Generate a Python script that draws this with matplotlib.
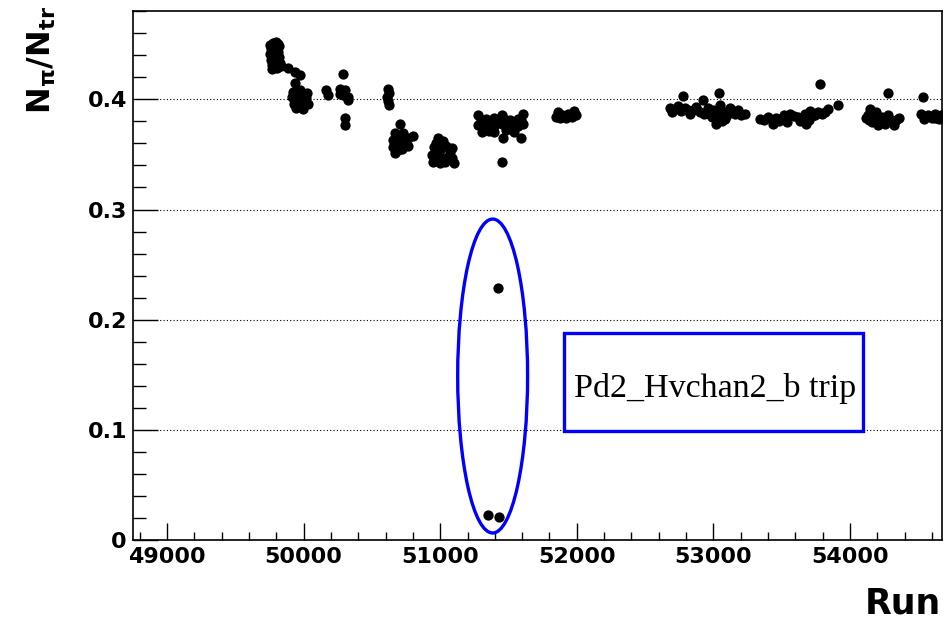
import matplotlib
matplotlib.use('Agg')
import matplotlib.pyplot as plt
from matplotlib.patches import Ellipse, Rectangle
from matplotlib.ticker import MultipleLocator

plt.rcParams['mathtext.fontset'] = 'dejavusans'

# pion / trigger ratio per run
runs = [
    49755, 49775, 49795, 49815, 49760, 49790, 49820, 49750, 49780, 49810,
    49760, 49790, 49820, 49765, 49795, 49825, 49770, 49805, 49835,
    49888, 49937, 49974, 49937,
    49922, 49974, 50025, 49915, 49966, 50017, 49930, 49981, 50032, 49944, 49996,
    50160, 50175,
    50266, 50303, 50288, 50325, 50266, 50325,
    50285, 50303, 50303,
    50618, 50625, 50611, 50618, 50625,
    50706, 50669, 50728, 50654, 50706, 50764, 50801, 50654, 50706, 50764, 50669, 50691,
    50680, 50740, 50720,
    50984, 50955, 50940, 50947, 50998, 51042, 51086, 51057, 51101, 51035, 51086,
    50970, 51010, 51020, 51070, 51000, 50960,
    51277, 51335, 51394, 51452, 51511, 51569, 51606, 51277, 51335, 51394,
    51452, 51511, 51569, 51606, 51306, 51394, 51460, 51591, 51540,
    51300, 51360, 51420, 51480, 51540, 51590, 51360, 51480,
    51452,
    51848, 51891, 51935, 51979, 51862, 51920, 51964, 51994, 51880, 51950,
    52682, 52741, 52777, 52814, 52873, 52924, 52960, 52990, 53019, 53041,
    53063, 53085, 53121, 53180, 53231, 52931, 52829, 52763, 53048, 53158,
    52700, 52790, 52850, 52900, 52970, 53000, 53030, 53100, 53140, 53200, 53060,
    53341, 53400, 53458, 53517, 53560, 53619, 53670, 53707, 53743, 53795,
    53839, 53539, 53436, 53678, 53634,
    53370, 53490, 53590, 53650, 53720, 53770, 53820, 53480, 53700,
    53780, 53912,
    54146, 54131, 54161, 54117, 54190, 54234, 54278, 54314, 54358, 54256, 54322, 54204,
    54140, 54170, 54220, 54290, 54340, 54180,
    54278, 54534,
    54519, 54571, 54622, 54666, 54541, 54600, 54651, 54560, 54620,
]
ratio = [
    0.449, 0.451, 0.452, 0.450, 0.446, 0.447, 0.448, 0.441, 0.442, 0.443,
    0.436, 0.437, 0.438, 0.431, 0.432, 0.433, 0.427, 0.428, 0.430,
    0.428, 0.425, 0.422, 0.415,
    0.407, 0.408, 0.406, 0.402, 0.402, 0.401, 0.396, 0.396, 0.396, 0.392, 0.391,
    0.408, 0.404,
    0.409, 0.408, 0.404, 0.402, 0.405, 0.399,
    0.423, 0.383, 0.377,
    0.409, 0.406, 0.402, 0.398, 0.395,
    0.378, 0.369, 0.369, 0.363, 0.363, 0.365, 0.367, 0.357, 0.357, 0.358, 0.351, 0.354,
    0.360, 0.362, 0.355,
    0.365, 0.357, 0.349, 0.343, 0.354, 0.358, 0.356, 0.348, 0.342, 0.343, 0.347,
    0.360, 0.347, 0.362, 0.352, 0.342, 0.350,
    0.386, 0.382, 0.383, 0.386, 0.381, 0.382, 0.387, 0.377, 0.375, 0.376,
    0.378, 0.375, 0.376, 0.378, 0.370, 0.370, 0.365, 0.365, 0.370,
    0.381, 0.379, 0.380, 0.381, 0.379, 0.381, 0.371, 0.372,
    0.343,
    0.384, 0.386, 0.387, 0.389, 0.388, 0.383, 0.384, 0.386, 0.383, 0.385,
    0.392, 0.394, 0.403, 0.390, 0.393, 0.399, 0.392, 0.384, 0.378, 0.406,
    0.389, 0.382, 0.392, 0.390, 0.387, 0.387, 0.387, 0.389, 0.395, 0.387,
    0.388, 0.392, 0.390, 0.388, 0.387, 0.390, 0.384, 0.386, 0.388, 0.386, 0.380,
    0.382, 0.384, 0.383, 0.386, 0.387, 0.384, 0.387, 0.389, 0.386, 0.387,
    0.391, 0.379, 0.378, 0.378, 0.380,
    0.381, 0.382, 0.385, 0.383, 0.385, 0.388, 0.388, 0.380, 0.381,
    0.414, 0.395,
    0.391, 0.386, 0.379, 0.383, 0.388, 0.384, 0.386, 0.380, 0.383, 0.378, 0.377, 0.377,
    0.381, 0.385, 0.381, 0.382, 0.381, 0.380,
    0.406, 0.402,
    0.387, 0.386, 0.387, 0.386, 0.382, 0.383, 0.382, 0.384, 0.383,
]

# runs taken during the HV trip
trip_runs = [51352, 51432, 51422]
trip_ratio = [0.023, 0.021, 0.229]

xticks = [49000, 50000, 51000, 52000, 53000, 54000]
yticks = [0, 0.1, 0.2, 0.3, 0.4]
ytick_labels = ['0', '0.1', '0.2', '0.3', '0.4']

fig = plt.figure(figsize=(9.43, 6.23), dpi=100)
ax = fig.add_axes([0.141, 0.1327, 0.858, 0.8496])

ax.plot(runs, ratio, 'o', color='black', ms=7.4, mew=0)
ax.plot(trip_runs, trip_ratio, 'o', color='black', ms=7.4, mew=0)

ax.set_xlim(48750, 54675)
ax.set_ylim(0, 0.48)

ax.set_xticks(xticks)
ax.set_xticklabels([str(v) for v in xticks])
ax.set_yticks(yticks)
ax.set_yticklabels(ytick_labels)
ax.xaxis.set_minor_locator(MultipleLocator(200))
ax.yaxis.set_minor_locator(MultipleLocator(0.02))

ax.tick_params(axis='x', which='major', direction='in', length=12.2, width=1.0, pad=5)
ax.tick_params(axis='x', which='minor', direction='in', length=5.8, width=1.0)
ax.tick_params(axis='y', which='major', direction='in', length=18, width=1.0, pad=4.3)
ax.tick_params(axis='y', which='minor', direction='in', length=9.4, width=1.0)
for lab in ax.get_xticklabels() + ax.get_yticklabels():
    lab.set_fontfamily('DejaVu Sans')
    lab.set_fontweight('bold')
    lab.set_fontsize(16)

for sp in ax.spines.values():
    sp.set_linewidth(1.2)

ax.yaxis.grid(True, linestyle=(0, (1, 2)), color='black', linewidth=0.8)
ax.set_axisbelow(True)

# annotation: ellipse round the trip runs and labelled box
ax.add_patch(Ellipse((51384, 0.149), 512, 0.2847, fill=False,
                     edgecolor='#0000ff', linewidth=2.4))
ax.add_patch(Rectangle((51908, 0.0994), 54093 - 51908, 0.1882 - 0.0994,
                       fill=False, edgecolor='#0000ff', linewidth=2.4))
ax.text(53013, 0.1296, 'Pd2_Hvchan2_b trip', family='Liberation Serif',
        fontsize=24.5, ha='center', va='baseline')

fig.text(42 / 943, 1 - 60 / 623, r'$\mathbf{N_{\pi}/N_{tr}}$', rotation=90,
         ha='center', va='center', fontsize=23)
fig.text(0.998, 1 - 604 / 623, 'Run', family='DejaVu Sans', fontweight='bold',
         fontsize=25, ha='right', va='center')

fig.savefig('out.png', dpi=100)
